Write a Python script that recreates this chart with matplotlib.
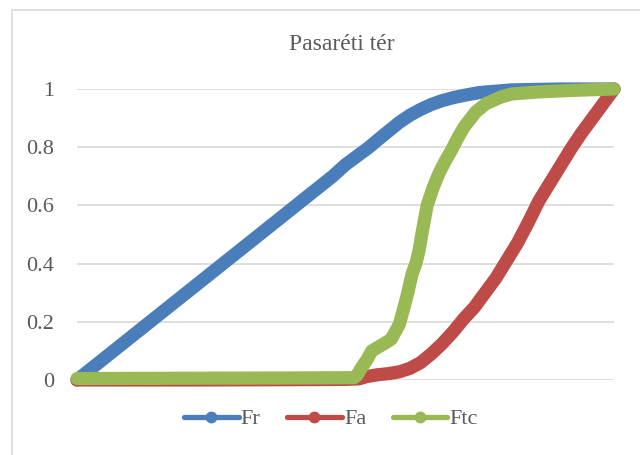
import matplotlib.pyplot as plt
from matplotlib.patches import Rectangle

# x is position along the category axis, in percent of its length
fr_x = [0, 6.8, 13.6, 20.4, 27.2, 34, 40.8, 47.6, 50, 54.4, 56, 58, 60, 62, 64, 66, 68, 70, 72,
        75, 81, 90, 100]
fr_y = [0, 0.1, 0.2, 0.3, 0.4, 0.5, 0.6, 0.7, 0.74, 0.8, 0.825, 0.855, 0.885, 0.91, 0.93, 0.947,
        0.96, 0.97, 0.978, 0.988, 0.997, 1.0, 1.0]

fa_x = [0, 20, 40, 50, 52.5, 54, 56, 58, 60, 62, 64, 66, 68, 70, 72, 74, 76, 78, 80, 82, 84, 86,
        88, 90, 92, 94, 96, 98, 100]
fa_y = [0, 0, 0.001, 0.002, 0.004, 0.012, 0.018, 0.022, 0.028, 0.04, 0.06, 0.09, 0.125, 0.165,
        0.21, 0.25, 0.3, 0.35, 0.41, 0.47, 0.54, 0.615, 0.675, 0.735, 0.795, 0.85, 0.9, 0.95, 1.0]

ftc_x = [0, 20, 40, 51.6, 52.1, 52.9, 54.0, 54.9, 57.2, 58.5, 60.0, 60.9, 61.6, 62.4, 63.1, 63.7,
         64.2, 65.2, 66.3, 67.4, 68.5, 69.6, 71, 72.1, 74.3, 76.2, 79, 81, 86, 92, 100]
ftc_y = [0.005, 0.006, 0.007, 0.008, 0.015, 0.04, 0.07, 0.1, 0.125, 0.14, 0.19, 0.25, 0.3, 0.365,
         0.4, 0.445, 0.5, 0.6, 0.66, 0.71, 0.75, 0.785, 0.835, 0.87, 0.922, 0.95, 0.973, 0.983,
         0.99, 0.995, 1.0]

series = [('Fr', fr_x, fr_y, '#4a7ebb'),
          ('Fa', fa_x, fa_y, '#be4b48'),
          ('Ftc', ftc_x, ftc_y, '#98b954')]

plt.rcParams['font.family'] = ['Liberation Serif', 'DejaVu Serif']

fig = plt.figure(figsize=(6.4, 4.55), dpi=100)
fig.patches.append(Rectangle((12 / 640, -0.1), 1.2, 1 - 10 / 455 + 0.1, transform=fig.transFigure,
                             fill=False, edgecolor='#d9d9d9', linewidth=1.2))
ax = fig.add_axes([77 / 640, 75 / 455, 537 / 640, 291 / 455])

for name, xs, ys, col in series:
    ax.plot(xs, ys, color=col, linewidth=9.5, solid_capstyle='round', solid_joinstyle='round',
            clip_on=False, label=name, zorder=3)

ax.set_xlim(0, 100)
ax.set_ylim(0, 1)
ax.set_yticks([0, 0.2, 0.4, 0.6, 0.8, 1])
ax.set_yticklabels(['0', '0.2', '0.4', '0.6', '0.8', '1'])
ax.set_xticks([])
ax.yaxis.grid(True, color='#d9d9d9', linewidth=1.2)
ax.set_axisbelow(True)
for s in ax.spines.values():
    s.set_visible(False)
ax.tick_params(axis='y', length=0, pad=16.5, labelsize=16, labelcolor='#595959')

fig.text(342 / 640, 1 - 45 / 455, 'Pasaréti tér', ha='center', va='center', fontsize=17, color='#595959')

# legend handles: line with a round marker
handles = []
for name, xs, ys, col in series:
    h, = ax.plot([], [], color=col, linewidth=3.8, marker='o', markersize=7.5, solid_capstyle='round')
    handles.append(h)
fig.legend(handles, [s[0] for s in series], loc='center', bbox_to_anchor=(331 / 640, 1 - 419 / 455),
           ncol=3, frameon=False, fontsize=16, labelcolor='#595959', handlelength=2.45,
           handletextpad=0.1, columnspacing=1.2)

fig.savefig('out.png', dpi=100)
